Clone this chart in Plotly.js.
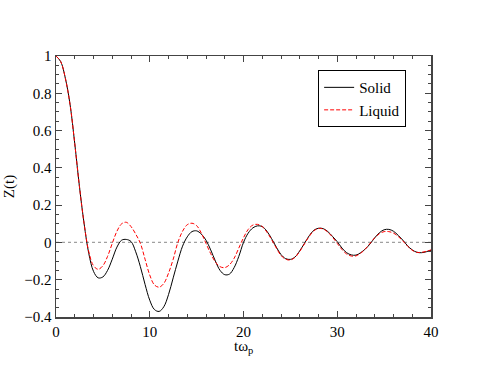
<!DOCTYPE html>
<html>
<head>
<meta charset="utf-8">
<script src="https://cdn.plot.ly/plotly-3.0.1.min.js"></script>
<style>
  html, body { margin: 0; padding: 0; background: #fff; }
  #plot { width: 485px; height: 374px; }
</style>
</head>
<body>
<div id="plot"></div>
<script>
"use strict"

// time axis, t*omega_p
var tValues = [0,0.5,1,1.5,2,2.5,3,3.5,4,4.5,5,5.5,6,6.5,7,7.5,8,8.5,9,9.5,
	10,10.5,11,11.5,12,12.5,13,13.5,14,14.5,15,15.5,16,16.5,17,17.5,18,18.5,19,19.5,
	20,20.5,21,21.5,22,22.5,23,23.5,24,24.5,25,25.5,26,26.5,27,27.5,28,28.5,29,29.5,
	30,30.5,31,31.5,32,32.5,33,33.5,34,34.5,35,35.5,36,36.5,37,37.5,38,38.5,39,39.5,40];

var solidZ = [1,0.97,0.88,0.74,0.53,0.3,0.1,-0.06,-0.155,-0.19,-0.185,-0.15,-0.09,-0.025,0.012,0.016,0.005,-0.05,-0.13,-0.225,
	-0.31,-0.36,-0.37,-0.345,-0.28,-0.19,-0.1,-0.02,0.03,0.058,0.062,0.045,0.012,-0.04,-0.1,-0.15,-0.173,-0.17,-0.135,-0.075,
	0.0,0.05,0.078,0.089,0.085,0.06,0.02,-0.025,-0.065,-0.087,-0.091,-0.078,-0.045,-0.005,0.035,0.065,0.076,0.074,0.058,0.032,
	0.004,-0.03,-0.055,-0.067,-0.068,-0.055,-0.035,-0.008,0.025,0.052,0.068,0.07,0.06,0.038,0.012,-0.018,-0.04,-0.053,-0.055,-0.05,-0.042];

var liquidZ = [1,0.97,0.88,0.74,0.53,0.3,0.1,-0.05,-0.125,-0.144,-0.125,-0.075,-0.005,0.06,0.1,0.108,0.085,0.045,-0.005,-0.09,
	-0.175,-0.228,-0.24,-0.22,-0.165,-0.09,0.0,0.06,0.095,0.103,0.09,0.05,-0.005,-0.06,-0.105,-0.13,-0.135,-0.12,-0.085,-0.03,
	0.025,0.07,0.093,0.097,0.085,0.055,0.015,-0.03,-0.07,-0.09,-0.094,-0.08,-0.048,-0.008,0.032,0.062,0.075,0.072,0.055,0.028,
	-0.005,-0.038,-0.062,-0.073,-0.072,-0.058,-0.035,-0.005,0.025,0.047,0.058,0.058,0.05,0.032,0.008,-0.02,-0.042,-0.053,-0.053,-0.048,-0.04];

var zeroX = [0, 40],
	zeroY = [0, 0];

var seriesNames = ['Solid', 'Liquid'];
var xTitle = 't\u03c9<sub>p</sub>',
	yTitle = 'Z(t)';

var fontFamily = '"Liberation Serif", "DejaVu Serif", serif';

var zeroTrace = {
	x: zeroX,
	y: zeroY,
	mode: 'lines',
	type: 'scatter',
	line: {color: '#a0a0a0', width: 1.2, dash: 'dot'},
	showlegend: false,
	hoverinfo: 'skip'
};

var solidTrace = {
	x: tValues,
	y: solidZ,
	name: seriesNames[0],
	mode: 'lines',
	type: 'scatter',
	line: {color: '#000000', width: 1, shape: 'spline', smoothing: 1}
};

var liquidTrace = {
	x: tValues,
	y: liquidZ,
	name: seriesNames[1],
	mode: 'lines',
	type: 'scatter',
	line: {color: '#ff0000', width: 1, dash: '4px,2px', shape: 'spline', smoothing: 1}
};

var axisCommon = {
	showline: true,
	linecolor: '#444',
	linewidth: 1.5,
	mirror: 'allticks',
	ticks: 'inside',
	ticklen: 6,
	tickwidth: 1,
	tickcolor: '#444',
	showgrid: false,
	zeroline: false,
	tickfont: {family: fontFamily, size: 15, color: '#000'}
};

var layout = {
	width: 485,
	height: 374,
	margin: {l: 56, r: 54, t: 56, b: 57, pad: 0},
	paper_bgcolor: '#fff',
	plot_bgcolor: '#fff',
	font: {family: fontFamily, size: 15, color: '#000'},
	showlegend: true,
	legend: {
		x: 0.699,
		y: 0.946,
		xanchor: 'left',
		yanchor: 'top',
		bgcolor: '#fff',
		bordercolor: '#000',
		borderwidth: 1,
		font: {family: fontFamily, size: 15, color: '#000'},
		tracegroupgap: 0,
		itemwidth: 30
	},
	xaxis: Object.assign({}, axisCommon, {
		range: [0, 40],
		dtick: 10,
		tick0: 0,
		minor: {dtick: 2, ticklen: 3, ticks: 'inside', tickcolor: '#444', showgrid: false}
	}),
	yaxis: Object.assign({}, axisCommon, {
		range: [-0.4, 1],
		dtick: 0.2,
		tick0: 0,
		minor: {dtick: 0.05, ticklen: 3, ticks: 'inside', tickcolor: '#444', showgrid: false},
		title: {text: yTitle, font: {family: fontFamily, size: 15}, standoff: 6}
	}),
	annotations: [{
		text: xTitle,
		xref: 'paper',
		yref: 'paper',
		x: 0.5,
		y: -0.078,
		xanchor: 'center',
		yanchor: 'top',
		showarrow: false,
		borderpad: 0,
		font: {family: fontFamily, size: 15, color: '#000'}
	}]
};

Plotly.newPlot('plot', [zeroTrace, solidTrace, liquidTrace], layout, {staticPlot: true, displayModeBar: false});
</script>
</body>
</html>
